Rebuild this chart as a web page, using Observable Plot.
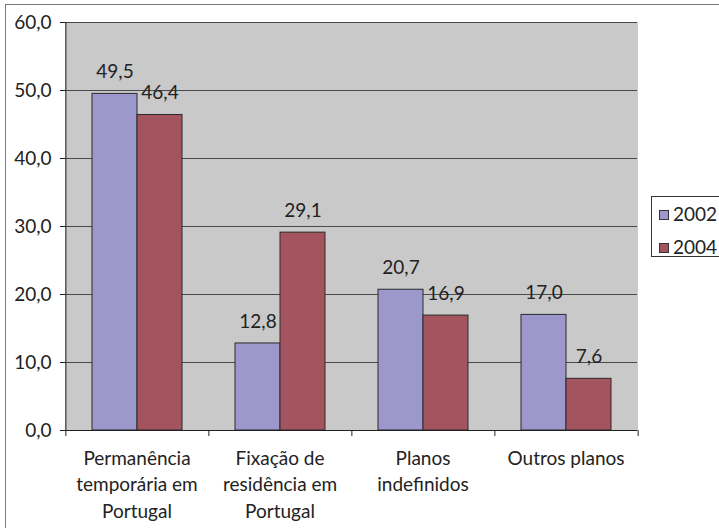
<!DOCTYPE html>
<html>
<head>
<meta charset="utf-8">
<script src="https://cdn.jsdelivr.net/npm/d3@7"></script>
<script src="https://cdn.jsdelivr.net/npm/@observablehq/plot@0.6"></script>
<style>
  html, body { margin: 0; padding: 0; background: #fff; overflow: hidden; width: 719px; height: 528px; }
  #wrap { position: relative; width: 719px; height: 528px; overflow: hidden; font-family: Lato, sans-serif; }
  #border { position: absolute; left: 5px; top: 4px; width: 800px; height: 600px; border: 1px solid #7a7a7a; box-sizing: border-box; }
  #chart { position: absolute; left: 0; top: 0; }
  #legend { position: absolute; left: 651px; top: 196px; width: 90px; height: 61px; border: 1px solid #333; background: #fff; box-sizing: border-box; }
  .item { position: absolute; left: 7px; font-size: 19px; color: #222; line-height: 19px; display: flex; align-items: center; }
  .sw { width: 8px; height: 8px; border: 1px solid #333; margin-right: 4px; margin-top: 3px; }
</style>
</head>
<body>
<div id="wrap">
  <div id="border"></div>
  <div id="chart"></div>
  <div id="legend"></div>
</div>
<script>
const categories = ["Permanência temporária em Portugal", "Fixação de residência em Portugal", "Planos indefinidos", "Outros planos"];
const categoryLabels = ["Permanência\ntemporária em\nPortugal", "Fixação de\nresidência em\nPortugal", "Planos\nindefinidos", "Outros planos"];
const years = ["2002", "2004"];
const values2002 = [49.5, 12.8, 20.7, 17.0];
const values2004 = [46.4, 29.1, 16.9, 7.6];
const yTicks = [0, 10, 20, 30, 40, 50, 60];
const colors = ["#9c98cb", "#a4545f"];

const data = categories.flatMap((c, i) => [
  {cat: c, year: "2002", value: values2002[i]},
  {cat: c, year: "2004", value: values2004[i]}
]);
const fmt = d => d.toFixed(1).replace(".", ",");

const W = 719, H = 528, ML = 63, MR = 81, MT = 22, MB = 98;
const outerPad = 0.58;
const facetW = (W - ML - MR) / categories.length;
const step = facetW / (2 + 2 * outerPad);
const edgeOffset = (outerPad + 0.5) * step;

const plot = Plot.plot({
  width: W, height: H,
  marginLeft: ML, marginRight: MR, marginTop: MT, marginBottom: MB,
  style: {fontFamily: "Lato, sans-serif", fontSize: "19px", color: "#222", background: "transparent", overflow: "visible"},
  fx: {domain: categories, padding: 0, label: null},
  x: {domain: years, paddingInner: 0, paddingOuter: outerPad, axis: null},
  y: {domain: [0, 60], label: null},
  color: {domain: years, range: colors},
  marks: [
    Plot.frame({fill: "#c9c9c9", stroke: "#c9c9c9", strokeWidth: 1, shapeRendering: "crispEdges"}),
    Plot.ruleY(yTicks.filter(d => d > 0), {stroke: "#4a4a4a", strokeWidth: 1}),
    Plot.barY(data, {fx: "cat", x: "year", y: "value", fill: "year", stroke: "#2a2a2a", strokeWidth: 1}),
    Plot.text(data, {fx: "cat", x: "year", y: "value", text: d => fmt(d.value), dy: -22, fill: "#222", fontSize: 19}),
    Plot.ruleY([0], {stroke: "#222", strokeWidth: 1}),
    Plot.ruleX([categories[0]], {fx: d => d, x: () => "2002", y1: 0, y2: 60, dx: -edgeOffset, stroke: "#222"}),
    Plot.ruleX(categories, {fx: d => d, x: () => "2002", y1: 0, y2: 0, insetBottom: -6, dx: -edgeOffset, stroke: "#222"}),
    Plot.ruleX([categories[categories.length - 1]], {fx: d => d, x: () => "2004", y1: 0, y2: 0, insetBottom: -6, dx: edgeOffset, stroke: "#222"}),
    Plot.axisY({ticks: yTicks, tickFormat: fmt, tickSize: 5, tickPadding: 9, fontSize: 19, stroke: "#222", fill: "#222"}),
    Plot.axisFx({anchor: "bottom", tickSize: 0, tickPadding: 16, lineHeight: 1.38, fontSize: 19, fill: "#222",
      tickFormat: d => categoryLabels[categories.indexOf(d)]})
  ]
});
document.getElementById("chart").appendChild(plot);

const legend = document.getElementById("legend");
years.forEach((y, i) => {
  const item = document.createElement("div");
  item.className = "item";
  item.style.top = (i === 0 ? 7 : 40) + "px";
  const sw = document.createElement("span");
  sw.className = "sw";
  sw.style.background = colors[i];
  item.appendChild(sw);
  item.appendChild(document.createTextNode(y));
  legend.appendChild(item);
});
</script>
</body>
</html>
